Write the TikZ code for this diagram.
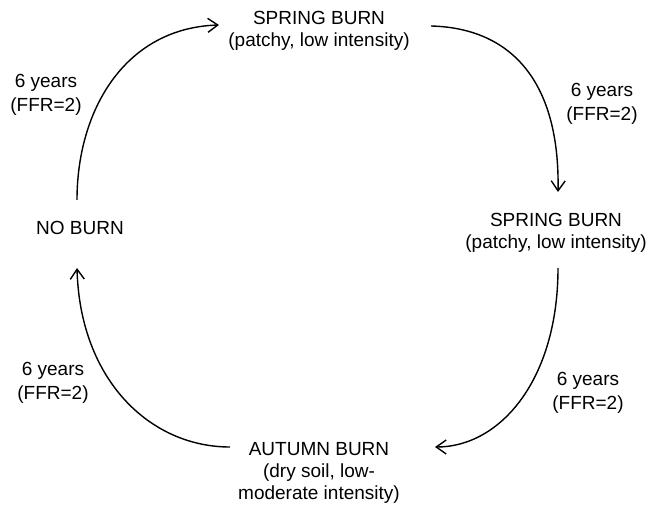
\documentclass[tikz,border=0pt]{standalone}
\usepackage{fontspec}
\setmainfont{Liberation Sans}
\usetikzlibrary{arrows.meta}
\tikzset{
  state/.style={inner sep=0pt, align=center, font=\fontsize{19}{22}\selectfont},
  lbl/.style={inner sep=0pt, align=center, font=\fontsize{19}{23.5}\selectfont},
  arr/.style={line width=1.4pt, -{Straight Barb[length=10pt,width=14pt,line width=1.4pt]}}
}
\begin{document}
\begin{tikzpicture}[x=1pt,y=1pt]
\useasboundingbox (0,0) rectangle (653,506);
\fill[white] (0,0) rectangle (653,506);

\node[state] (spring1) at (319,475.5) {SPRING BURN\\(patchy, low intensity)};
\node[state] (spring2) at (556,273) {SPRING BURN\\(patchy, low intensity)};
\node[state, anchor=base] (noburn) at (80,271) {NO BURN};
\node[state] (autumn) at (319,33.5) {AUTUMN BURN\\(dry soil, low-\\moderate intensity)};

\node[lbl] (l1) at (46,411) {6 years\\(FFR=2)};
\node[lbl] (l2) at (602,402) {6 years\\(FFR=2)};
\node[lbl] (l3) at (588,113) {6 years\\(FFR=2)};
\node[lbl] (l4) at (53,123) {6 years\\(FFR=2)};

% NO BURN -> SPRING BURN (top)
\draw[arr] ([shift={(-3,35)}]noburn.base) .. controls (77,396) and (125,478) .. ([shift={(-100,5.5)}]spring1.center);
% top SPRING BURN -> right SPRING BURN
\draw[arr] ([shift={(112,4.5)}]spring1.center) .. controls (510,478) and (560,426) .. ([shift={(2,41)}]spring2.center);
% right SPRING BURN -> AUTUMN BURN
\draw[arr] ([shift={(2,-35)}]spring2.center) .. controls (558,126) and (500,59) .. ([shift={(116,25.5)}]autumn.center);
% AUTUMN BURN -> NO BURN
\draw[arr] ([shift={(-89,25.5)}]autumn.center) .. controls (150,59) and (80,126) .. ([shift={(-3,-33)}]noburn.base);
\end{tikzpicture}
\end{document}
